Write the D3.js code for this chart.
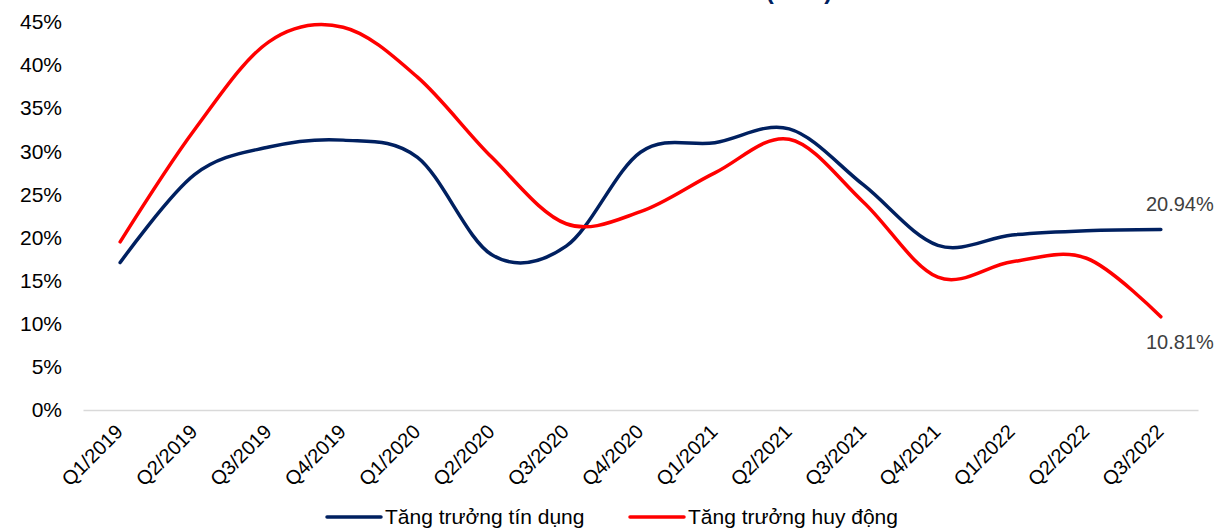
<!DOCTYPE html>
<html>
<head>
<meta charset="utf-8">
<script src="https://cdn.jsdelivr.net/npm/d3@7"></script>
<style>
  body { margin: 0; background: #fff; }
  svg { display: block; font-family: Arial, "Liberation Sans", sans-serif; }
</style>
</head>
<body>
<div id="chart"></div>
<script>
const quarters = ['Q1/2019', 'Q2/2019', 'Q3/2019', 'Q4/2019', 'Q1/2020', 'Q2/2020', 'Q3/2020', 'Q4/2020',
  'Q1/2021', 'Q2/2021', 'Q3/2021', 'Q4/2021', 'Q1/2022', 'Q2/2022', 'Q3/2022'];
const credit = [17.1, 27.3, 30.5, 31.3, 29.3, 18.0, 19.0, 29.9, 31.0, 32.6, 26.1, 19.1, 20.3, 20.8, 20.94];
const deposit = [19.5, 32.5, 42.7, 44.4, 38.6, 29.3, 21.6, 23.0, 27.5, 31.4, 24.1, 15.4, 17.2, 17.6, 10.81];
const yTicks = [0, 5, 10, 15, 20, 25, 30, 35, 40, 45];
const seriesNames = ['Tăng trưởng tín dụng', 'Tăng trưởng huy động'];

const W = 1214, H = 530;
const margin = { top: 22, right: 16, bottom: 120, left: 83 };
const width = W - margin.left - margin.right;
const height = H - margin.top - margin.bottom;

const svg = d3.select('#chart').append('svg')
  .attr('width', W)
  .attr('height', H);

// cut-off title at the very top
svg.append('text')
  .attr('x', 799)
  .attr('y', -1)
  .attr('text-anchor', 'middle')
  .style('font-size', '24px')
  .style('font-weight', 'bold')
  .attr('fill', '#002060')
  .text('(YOY)');

const g = svg.append('g')
  .attr('transform', 'translate(' + margin.left + ',' + margin.top + ')');

const x = d3.scaleBand()
  .domain(quarters)
  .range([0, width]);

const y = d3.scaleLinear()
  .domain([0, 45])
  .range([height, 0]);

// Y axis labels only
const yAxis = g.append('g')
  .call(d3.axisLeft(y).tickValues(yTicks).tickFormat(d => d + '%').tickSize(0).tickPadding(21));
yAxis.select('.domain').remove();
yAxis.selectAll('text')
  .style('font-size', '21px')
  .style('font-family', 'Arial, "Liberation Sans", sans-serif')
  .attr('fill', '#000');

// X axis
const xAxis = g.append('g')
  .attr('transform', 'translate(0,' + height + ')')
  .call(d3.axisBottom(x).tickSize(0).tickPadding(0));
xAxis.select('.domain')
  .attr('stroke', '#d9d9d9')
  .attr('stroke-width', 1.5);
xAxis.selectAll('text')
  .style('font-size', '20px')
  .style('font-family', 'Arial, "Liberation Sans", sans-serif')
  .attr('fill', '#000')
  .style('text-anchor', 'end')
  .attr('dy', 0)
  .attr('transform', 'translate(4,23) rotate(-45)');

// lines
const line = d3.line()
  .x((d, i) => x(quarters[i]) + x.bandwidth() / 2)
  .y(d => y(d))
  .curve(d3.curveCardinal.tension(0));

g.append('path')
  .datum(credit)
  .attr('fill', 'none')
  .attr('stroke', '#002060')
  .attr('stroke-width', 3.5)
  .attr('stroke-linecap', 'round')
  .attr('d', line);

g.append('path')
  .datum(deposit)
  .attr('fill', 'none')
  .attr('stroke', '#ff0000')
  .attr('stroke-width', 3.5)
  .attr('stroke-linecap', 'round')
  .attr('d', line);

// end labels
const lastX = x(quarters[quarters.length - 1]) + x.bandwidth() / 2;
g.append('text')
  .attr('x', lastX + 19)
  .attr('y', y(credit[credit.length - 1]) - 25)
  .attr('text-anchor', 'middle')
  .attr('dy', '0.35em')
  .style('font-size', '20px')
  .attr('fill', '#404040')
  .text(credit[credit.length - 1].toFixed(2) + '%');

g.append('text')
  .attr('x', lastX + 19)
  .attr('y', y(deposit[deposit.length - 1]) + 25)
  .attr('text-anchor', 'middle')
  .attr('dy', '0.35em')
  .style('font-size', '20px')
  .attr('fill', '#404040')
  .text(deposit[deposit.length - 1].toFixed(2) + '%');

// legend
const legend = svg.append('g')
  .attr('transform', 'translate(327,' + 517 + ')');
const legendColors = ['#002060', '#ff0000'];
const legendX = [0, 303];
seriesNames.forEach((name, i) => {
  legend.append('line')
    .attr('x1', legendX[i])
    .attr('x2', legendX[i] + 54)
    .attr('y1', 0)
    .attr('y2', 0)
    .attr('stroke', legendColors[i])
    .attr('stroke-width', 3.5)
    .attr('stroke-linecap', 'round');
  legend.append('text')
    .attr('x', legendX[i] + 58)
    .attr('y', 0)
    .attr('dy', '0.35em')
    .style('font-size', '21px')
    .attr('fill', '#000')
    .text(name);
});
</script>
</body>
</html>
